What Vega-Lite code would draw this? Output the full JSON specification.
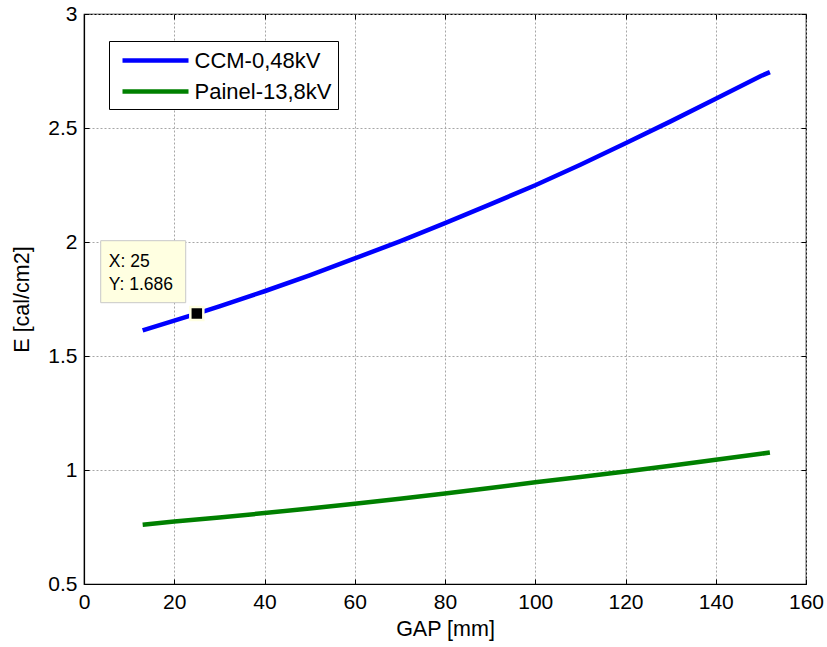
{
  "$schema": "https://vega.github.io/schema/vega-lite/v6.json",
  "width": 722,
  "height": 570,
  "autosize": {"type": "none"},
  "padding": {"left": 84, "top": 14, "right": 21, "bottom": 63},
  "background": "white",
  "config": {
    "font": "Liberation Sans",
    "view": {"stroke": "black", "strokeWidth": 1.2},
    "axis": {
      "domainColor": "black",
      "domainWidth": 1.2,
      "tickColor": "black",
      "tickSize": -5,
      "tickWidth": 1,
      "gridColor": "#a6a6a6",
      "gridDash": [2, 2],
      "gridWidth": 1,
      "gridOpacity": 1,
      "labelFontSize": 21,
      "labelColor": "black",
      "labelFont": "Liberation Sans",
      "titleFont": "Liberation Sans",
      "titleFontSize": 21.5,
      "titleFontWeight": "normal",
      "titleColor": "black",
      "labelOverlap": false,
      "labelFlush": false
    }
  },
  "resolve": {"axis": {"x": "independent", "y": "independent"}},
  "datasets": {
    "curves": [
      {"series": "CCM-0,48kV", "GAP": 13, "E": 1.612},
      {"series": "CCM-0,48kV", "GAP": 20, "E": 1.655},
      {"series": "CCM-0,48kV", "GAP": 25, "E": 1.686},
      {"series": "CCM-0,48kV", "GAP": 30, "E": 1.718},
      {"series": "CCM-0,48kV", "GAP": 40, "E": 1.784},
      {"series": "CCM-0,48kV", "GAP": 50, "E": 1.854},
      {"series": "CCM-0,48kV", "GAP": 60, "E": 1.928},
      {"series": "CCM-0,48kV", "GAP": 70, "E": 2.003},
      {"series": "CCM-0,48kV", "GAP": 80, "E": 2.083},
      {"series": "CCM-0,48kV", "GAP": 90, "E": 2.165},
      {"series": "CCM-0,48kV", "GAP": 100, "E": 2.249},
      {"series": "CCM-0,48kV", "GAP": 110, "E": 2.339},
      {"series": "CCM-0,48kV", "GAP": 120, "E": 2.433},
      {"series": "CCM-0,48kV", "GAP": 130, "E": 2.529},
      {"series": "CCM-0,48kV", "GAP": 140, "E": 2.628},
      {"series": "CCM-0,48kV", "GAP": 150, "E": 2.728},
      {"series": "CCM-0,48kV", "GAP": 152, "E": 2.745},
      {"series": "Painel-13,8kV", "GAP": 13, "E": 0.76},
      {"series": "Painel-13,8kV", "GAP": 20, "E": 0.774},
      {"series": "Painel-13,8kV", "GAP": 30, "E": 0.792},
      {"series": "Painel-13,8kV", "GAP": 40, "E": 0.811},
      {"series": "Painel-13,8kV", "GAP": 50, "E": 0.831},
      {"series": "Painel-13,8kV", "GAP": 60, "E": 0.852},
      {"series": "Painel-13,8kV", "GAP": 70, "E": 0.874},
      {"series": "Painel-13,8kV", "GAP": 80, "E": 0.897},
      {"series": "Painel-13,8kV", "GAP": 90, "E": 0.921},
      {"series": "Painel-13,8kV", "GAP": 100, "E": 0.946},
      {"series": "Painel-13,8kV", "GAP": 110, "E": 0.969},
      {"series": "Painel-13,8kV", "GAP": 120, "E": 0.993},
      {"series": "Painel-13,8kV", "GAP": 130, "E": 1.019},
      {"series": "Painel-13,8kV", "GAP": 140, "E": 1.045},
      {"series": "Painel-13,8kV", "GAP": 150, "E": 1.071},
      {"series": "Painel-13,8kV", "GAP": 152, "E": 1.077}
    ],
    "tip": [{"GAP": 25, "E": 1.686}]
  },
  "layer": [
    {
      "data": {"name": "curves"},
      "mark": {"type": "line", "strokeWidth": 4.5},
      "encoding": {
        "x": {
          "field": "GAP", "type": "quantitative",
          "scale": {"domain": [0, 160], "nice": false, "zero": false},
          "axis": {"title": "GAP [mm]", "values": [0, 20, 40, 60, 80, 100, 120, 140, 160], "labelPadding": 12, "titlePadding": 6}
        },
        "y": {
          "field": "E", "type": "quantitative",
          "scale": {"domain": [0.5, 3], "nice": false, "zero": false},
          "axis": {"title": "E [cal/cm2]", "values": [0.5, 1, 1.5, 2, 2.5, 3], "format": "~g", "labelPadding": 12, "titlePadding": 14}
        },
        "color": {
          "field": "series", "type": "nominal",
          "scale": {"domain": ["CCM-0,48kV", "Painel-13,8kV"], "range": ["#0000ff", "#008000"]},
          "legend": {
            "title": null,
            "orient": "none",
            "legendX": 25,
            "legendY": 27,
            "symbolType": "M-3,0H3",
            "symbolSize": 484,
            "symbolStrokeWidth": 4.5,
            "symbolOffset": 27,
            "labelFontSize": 22,
            "labelFont": "Liberation Sans",
            "labelColor": "black",
            "labelOffset": 25.5,
            "labelLimit": 0,
            "labelExpr": "datum.label + '\u00a0'",
            "padding": 6,
            "rowPadding": 6,
            "strokeColor": "black",
            "fillColor": "white"
          }
        }
      }
    },
    {
      "data": {"name": "tip"},
      "mark": {"type": "point", "opacity": 0},
      "encoding": {
        "x": {"field": "GAP", "type": "quantitative", "axis": {"orient": "top", "values": [0, 20, 40, 60, 80, 100, 120, 140, 160], "labels": false, "title": null, "grid": false, "domain": false}},
        "y": {"field": "E", "type": "quantitative", "axis": {"orient": "right", "values": [0.5, 1, 1.5, 2, 2.5, 3], "labels": false, "title": null, "grid": false, "domain": false}}
      }
    },
    {
      "data": {"name": "tip"},
      "mark": {"type": "point", "shape": "M-1,-0.7294H1V0.7294H-1Z", "size": 7225, "filled": true, "fill": "#ffffe1", "stroke": "#c8c8c8", "strokeWidth": 1, "opacity": 1, "xOffset": -53.6, "yOffset": -41.9},
      "encoding": {
        "x": {"field": "GAP", "type": "quantitative", "axis": null},
        "y": {"field": "E", "type": "quantitative", "axis": null}
      }
    },
    {
      "data": {"name": "tip"},
      "mark": {"type": "text", "align": "left", "baseline": "middle", "fontSize": 17.5, "font": "Liberation Sans", "color": "black", "dx": -88, "dy": -52},
      "encoding": {
        "x": {"field": "GAP", "type": "quantitative", "axis": null},
        "y": {"field": "E", "type": "quantitative", "axis": null},
        "text": {"value": "X: 25"}
      }
    },
    {
      "data": {"name": "tip"},
      "mark": {"type": "text", "align": "left", "baseline": "middle", "fontSize": 17.5, "font": "Liberation Sans", "color": "black", "dx": -88, "dy": -29},
      "encoding": {
        "x": {"field": "GAP", "type": "quantitative", "axis": null},
        "y": {"field": "E", "type": "quantitative", "axis": null},
        "text": {"value": "Y: 1.686"}
      }
    },
    {
      "data": {"name": "tip"},
      "mark": {"type": "point", "shape": "square", "size": 169, "filled": true, "fill": "black", "stroke": "#ffffe1", "strokeWidth": 2.5, "opacity": 1},
      "encoding": {
        "x": {"field": "GAP", "type": "quantitative", "axis": null},
        "y": {"field": "E", "type": "quantitative", "axis": null}
      }
    }
  ]
}
